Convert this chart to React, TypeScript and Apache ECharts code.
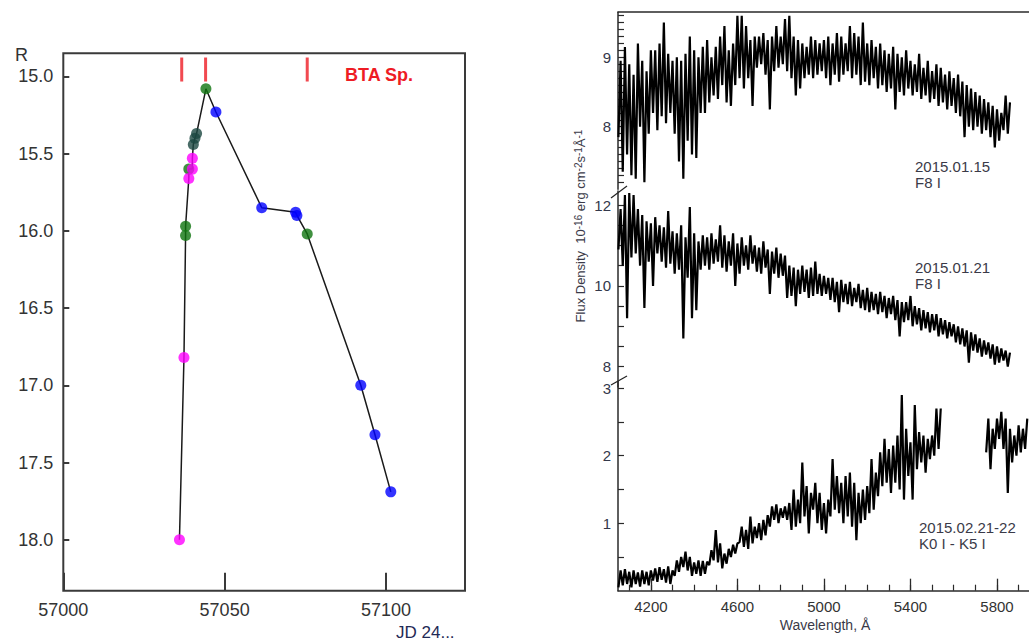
import React, { useEffect, useRef } from "react";
import * as echarts from "echarts";

// ---------- Light curve (left panel) ----------
const LC_JD = [57036.0, 57037.4, 57037.9, 57037.9, 57038.9, 57038.9, 57040.0, 57040.0, 57040.3, 57040.8, 57041.3, 57044.2, 57047.3, 57061.5, 57072.0, 57072.4, 57075.6, 57092.2, 57096.6, 57101.5];
const LC_R = [18.0, 16.82, 16.03, 15.97, 15.66, 15.6, 15.6, 15.53, 15.44, 15.4, 15.37, 15.08, 15.23, 15.85, 15.88, 15.9, 16.02, 17.0, 17.32, 17.69];
const LC_GROUP = ["m", "m", "g", "g", "m", "g", "m", "m", "t", "t", "t", "g", "b", "b", "b", "b", "g", "b", "b", "b"];
const GROUP_ORDER = ["g", "t", "b", "m"];
const GROUP_COLORS: Record<string, string> = { m: "#ff00ff", g: "#0f740f", t: "#1b4741", b: "#0000ff" };
const SPEC_JD = [57036.7, 57044.1, 57075.6];
const SPEC_MARK_R = 14.955;
const JD_TICKS = [57000, 57050, 57100];
const R_TICKS = [15, 15.5, 16, 16.5, 17, 17.5, 18];

// ---------- Spectra (right panels) ----------
const WL_STEP = 20;
const S1_START = 4050;
const S1_LO = [7.85, 7.35, 7.6, 7.3, 7.25, 8.0, 7.2, 7.9, 8.2, 7.95, 8.15, 8.05, 8.2, 7.9, 7.5, 7.25, 7.8, 7.6, 7.55, 8.2, 8.2, 8.35, 8.45, 8.4, 8.6, 8.35, 8.3, 8.6, 8.7, 8.55, 8.7, 8.3, 8.85, 8.9, 8.75, 8.25, 8.8, 8.85, 8.9, 8.8, 8.7, 8.45, 8.55, 8.7, 8.75, 8.7, 8.75, 8.8,
  8.7, 8.6, 8.75, 8.65, 8.75, 8.8, 8.7, 8.75, 8.6, 8.65, 8.6, 8.7, 8.55, 8.6, 8.5, 8.55, 8.25, 8.5, 8.45, 8.55, 8.45, 8.5, 8.4, 8.45, 8.35, 8.4, 8.3, 8.35, 8.25, 8.3, 8.2, 8.15, 7.85, 8.0, 7.95, 8.0, 7.9, 7.95, 7.85, 7.7, 7.8, 7.95, 7.9];
const S1_HI = [8.95, 9.15, 8.9, 8.75, 9.2, 8.95, 8.8, 9.1, 9.1, 9.2, 9.5, 9.05, 8.95, 9.0, 8.95, 9.05, 9.3, 9.1, 9.0, 9.15, 9.25, 9.0, 9.15, 9.3, 9.45, 9.1, 9.2, 9.6, 9.6, 9.45, 9.25, 9.3, 9.3, 9.35, 9.25, 9.3, 9.45, 9.3, 9.55, 9.6, 9.3, 9.25, 9.2, 9.15, 9.3, 9.25, 9.2, 9.25,
  9.3, 9.2, 9.35, 9.3, 9.2, 9.45, 9.35, 9.3, 9.5, 9.2, 9.25, 9.15, 9.2, 9.1, 9.05, 9.15, 9.05, 9.0, 9.1, 8.95, 8.9, 9.05, 8.85, 8.95, 8.8, 8.9, 8.85, 8.75, 8.8, 8.7, 8.75, 8.65, 8.6, 8.55, 8.5, 8.45, 8.4, 8.35, 8.3, 8.25, 8.2, 8.45, 8.35];

const S2_START = 4050;
const S2_LO = [10.9, 10.5, 9.2, 10.7, 10.8, 10.5, 9.45, 10.6, 10.0, 10.8, 10.6, 10.45, 10.55, 10.3, 10.4, 8.7, 10.2, 9.2, 9.4, 10.4, 10.5, 10.4, 10.55, 10.6, 10.45, 10.35, 10.5, 10.0, 10.3, 10.5, 10.4, 10.55, 10.35, 10.3, 10.45, 9.8, 10.3, 10.2, 10.25, 9.7, 9.75, 9.5, 9.8, 9.85, 9.7, 9.75, 9.8, 9.75,
  9.8, 9.65, 9.6, 9.35, 9.6, 9.55, 9.5, 9.6, 9.45, 9.4, 9.35, 9.4, 9.3, 9.35, 9.2, 9.3, 9.15, 8.75, 9.1, 9.15, 9.0, 9.05, 8.9, 8.95, 8.85, 8.9, 8.75, 8.8, 8.7, 8.75, 8.6, 8.55, 8.5, 8.1, 8.4, 8.35, 8.25, 8.3, 8.2, 8.05, 8.1, 8.15, 8.0];
const S2_HI = [11.9, 12.25, 12.3, 12.25, 11.9, 11.75, 11.6, 11.55, 11.7, 11.5, 11.45, 11.85, 11.35, 11.3, 11.5, 11.2, 11.95, 11.3, 11.1, 11.25, 11.2, 11.3, 11.15, 11.5, 11.25, 11.1, 11.3, 11.05, 11.2, 11.0, 11.25, 11.0, 10.95, 11.1, 10.9, 10.85, 10.95, 10.8, 10.75, 10.5, 10.45, 10.4, 10.5, 10.4, 10.45, 10.6, 10.3, 10.25,
  10.2, 10.2, 10.1, 10.15, 10.05, 10.1, 9.95, 10.05, 9.9, 9.95, 9.85, 9.8, 9.85, 9.75, 9.7, 9.75, 9.65, 9.6, 9.6, 9.75, 9.5, 9.45, 9.4, 9.35, 9.3, 9.3, 9.2, 9.15, 9.1, 9.05, 9.0, 8.95, 8.9, 8.85, 8.8, 8.7, 8.65, 8.6, 8.55, 8.5, 8.45, 8.4, 8.35];

const S3A_START = 4050;
const S3A_LO = [0.05, 0.08, 0.1, 0.05, 0.1, 0.06, 0.1, 0.08, 0.15, 0.13, 0.16, 0.12, 0.1, 0.22, 0.28, 0.35, 0.3, 0.22, 0.25, 0.22, 0.25, 0.38, 0.45, 0.42, 0.33, 0.4, 0.5, 0.55, 0.72, 0.65, 0.62, 0.7, 0.78, 0.75, 0.82, 0.95, 1.05, 1.0, 1.08, 1.05, 0.9, 0.95, 1.0, 1.1, 0.85, 1.2, 1.0, 0.9,
  0.85, 1.1, 1.2, 1.15, 1.0, 1.1, 0.95, 0.75, 1.0, 1.05, 1.15, 1.2, 1.4, 1.55, 1.6, 1.45, 1.6, 1.5, 1.35, 1.7, 1.35, 1.8, 1.9, 1.75, 1.95, 2.0, 2.1];
const S3A_HI = [0.3, 0.32, 0.28, 0.3, 0.27, 0.3, 0.28, 0.3, 0.33, 0.35, 0.32, 0.36, 0.3, 0.45, 0.5, 0.58, 0.5, 0.42, 0.45, 0.44, 0.43, 0.6, 0.9, 0.7, 0.55, 0.62, 0.68, 0.7, 0.95, 0.9, 1.1, 0.95, 1.0, 1.05, 1.12, 1.25, 1.28, 1.22, 1.25, 1.3, 1.5, 1.35, 1.9, 1.55, 1.45, 1.6, 1.45, 1.3,
  1.35, 1.95, 1.7, 1.6, 1.7, 1.75, 1.6, 1.45, 1.5, 1.55, 1.95, 1.75, 2.05, 2.25, 2.1, 2.15, 2.3, 2.9, 2.4, 2.2, 2.75, 2.35, 2.3, 2.25, 2.3, 2.7, 2.7];
const S3B_START = 5750;
const S3B_LO = [2.05, 1.8, 2.1, 2.25, 2.1, 1.45, 1.9, 2.0, 2.05, 2.1];
const S3B_HI = [2.55, 2.4, 2.55, 2.65, 2.55, 2.4, 2.3, 2.45, 2.4, 2.55];

const WL_MIN = 4048;
const WL_MAX = 5948;
const WL_MAJOR = [4200, 4600, 5000, 5400, 5800];
const WL_MINOR = [4100, 4200, 4300, 4400, 4500, 4600, 4700, 4800, 4900, 5000, 5100, 5200, 5300, 5400, 5500, 5600, 5700, 5800, 5900];
const P1_TICKS = [7.2, 7.3, 7.4, 7.5, 7.6, 7.7, 7.8, 7.9, 8.0, 8.1, 8.2, 8.3, 8.4, 8.5, 8.6, 8.7, 8.8, 8.9, 9.0, 9.1, 9.2, 9.3, 9.4, 9.5, 9.6];
const P1_LABELS = [8, 9];
const P2_TICKS = [8, 8.5, 9, 9.5, 10, 10.5, 11, 11.5, 12];
const P2_LABELS = [8, 10, 12];
const P3_TICKS = [0.5, 1, 1.5, 2, 2.5, 3];
const P3_LABELS = [1, 2, 3];

const FONT = "'Liberation Sans', Arial, Helvetica, sans-serif";

function zigzag(start: number, lo: number[], hi: number[]) {
  const pts: number[][] = [];
  for (let i = 0; i < lo.length; i++) {
    pts.push([start + WL_STEP * i, lo[i]]);
    pts.push([start + WL_STEP * i + WL_STEP / 2, hi[i]]);
  }
  return pts;
}

export default function App() {
  const ref = useRef<HTMLDivElement>(null);
  useEffect(() => {
    if (!ref.current) return;
    const chart = echarts.init(ref.current, null, { renderer: "svg" });
    const axisColor = "#2a2a2a";
    const lblColor = "#333";

    const specAxisY = (grid: number, min: number, max: number, ticks: number[], labels: number[]) => ({
      gridIndex: grid,
      type: "value",
      min,
      max,
      axisLine: { show: true, onZero: false, lineStyle: { color: axisColor, width: 1.5 } },
      axisTick: { show: true, inside: true, length: 6, customValues: ticks, lineStyle: { color: axisColor, width: 1.2 } },
      axisLabel: { show: true, customValues: labels, fontSize: 15, color: "#33384a", fontFamily: FONT, margin: 7, formatter: (v: number) => String(v) },
      splitLine: { show: false },
    });

    const specSeries = (x: number, y: number, data: number[][]) => ({
      type: "line",
      xAxisIndex: x,
      yAxisIndex: y,
      data,
      showSymbol: false,
      symbol: "none",
      lineStyle: { color: "#000", width: 2.2, join: "bevel" },
      silent: true,
      z: 2,
    });

    const lcData = LC_JD.map((x, i) => [x, LC_R[i]]);
    const scatterSeries = GROUP_ORDER.map((g) => ({
      type: "scatter",
      xAxisIndex: 0,
      yAxisIndex: 0,
      symbol: "circle",
      symbolSize: 11,
      itemStyle: { color: GROUP_COLORS[g] },
      data: LC_JD.map((x, i) => (LC_GROUP[i] === g ? [x, LC_R[i]] : null)).filter((d) => d !== null),
      z: 4,
      silent: true,
    }));

    chart.setOption({
      animation: false,
      backgroundColor: "#fff",
      grid: [
        { left: 63.3, top: 53.3, width: 401.7, height: 537.4, show: true, borderColor: "#3a3a3a", borderWidth: 2, backgroundColor: "transparent" },
        { left: 618, top: 12.2, right: 0, height: 177 },
        { left: 618, top: 190.9, right: 0, height: 196 },
        { left: 618, top: 381.5, right: 0, height: 209.2 },
      ],
      xAxis: [
        {
          gridIndex: 0, type: "value", min: 57000, max: 57124.5,
          axisLine: { show: false, onZero: false },
          axisTick: { show: true, inside: true, length: 18, customValues: JD_TICKS, lineStyle: { color: "#3a3a3a", width: 2 } },
          axisLabel: { show: true, customValues: JD_TICKS, fontSize: 18, color: lblColor, fontFamily: FONT, margin: 10, formatter: (v: number) => String(v) },
          splitLine: { show: false },
        },
        {
          gridIndex: 1, type: "value", position: "top", min: WL_MIN, max: WL_MAX,
          axisLine: { show: true, onZero: false, lineStyle: { color: axisColor, width: 1.5 } },
          axisTick: { show: false }, axisLabel: { show: false }, splitLine: { show: false },
        },
        { gridIndex: 2, type: "value", min: WL_MIN, max: WL_MAX, show: false },
        {
          gridIndex: 3, type: "value", position: "bottom", min: WL_MIN, max: WL_MAX,
          axisLine: { show: true, onZero: false, lineStyle: { color: axisColor, width: 1.5 } },
          axisTick: { show: true, inside: true, length: 12, customValues: WL_MAJOR, lineStyle: { color: axisColor, width: 1.3 } },
          axisLabel: { show: true, customValues: WL_MAJOR, fontSize: 15, color: lblColor, fontFamily: FONT, margin: 8, formatter: (v: number) => String(v) },
          splitLine: { show: false },
        },
        {
          gridIndex: 3, type: "value", position: "bottom", min: WL_MIN, max: WL_MAX,
          axisLine: { show: false, onZero: false },
          axisTick: { show: true, inside: true, length: 6, customValues: WL_MINOR, lineStyle: { color: axisColor, width: 1.2 } },
          axisLabel: { show: false }, splitLine: { show: false },
        },
      ],
      yAxis: [
        {
          gridIndex: 0, type: "value", inverse: true, min: 14.85, max: 18.33,
          axisLine: { show: false, onZero: false },
          axisTick: { show: true, inside: true, length: 6, customValues: R_TICKS, lineStyle: { color: "#3a3a3a", width: 2 } },
          axisLabel: { show: true, customValues: R_TICKS, fontSize: 18, color: lblColor, fontFamily: FONT, margin: 10, formatter: (v: number) => v.toFixed(1) },
          splitLine: { show: false },
        },
        specAxisY(1, 7.1, 9.65, P1_TICKS, P1_LABELS),
        specAxisY(2, 7.5, 12.35, P2_TICKS, P2_LABELS),
        specAxisY(3, 0, 3.1, P3_TICKS, P3_LABELS),
      ],
      series: [
        {
          type: "line", xAxisIndex: 0, yAxisIndex: 0, data: lcData, showSymbol: false, symbol: "none",
          lineStyle: { color: "#1a1a1a", width: 1.5 }, z: 3, silent: true,
        },
        ...scatterSeries,
        {
          type: "scatter", xAxisIndex: 0, yAxisIndex: 0, symbol: "rect", symbolSize: [3, 24],
          itemStyle: { color: "#ee1c24" }, data: SPEC_JD.map((x) => [x, SPEC_MARK_R]), z: 4, silent: true,
        },
        specSeries(1, 1, zigzag(S1_START, S1_LO, S1_HI)),
        specSeries(2, 2, zigzag(S2_START, S2_LO, S2_HI)),
        specSeries(3, 3, zigzag(S3A_START, S3A_LO, S3A_HI)),
        specSeries(3, 3, zigzag(S3B_START, S3B_LO, S3B_HI)),
      ],
      graphic: [
        { type: "text", x: 15, y: 46, style: { text: "R", fontSize: 18, fill: lblColor, fontFamily: FONT } },
        { type: "text", x: 396, y: 624, style: { text: "JD 24...", fontSize: 17, fill: "#1f2a55", fontFamily: FONT } },
        { type: "text", x: 345, y: 75, style: { text: "BTA Sp.", fontSize: 18, fontWeight: "bold", fill: "#ee1c24", fontFamily: FONT, verticalAlign: "middle" } },
        {
          type: "text", x: 580, y: 226, rotation: Math.PI / 2,
          style: {
            text: "Flux Density  10{s|-16} erg cm{s|-2}s{s|-1}Å{s|-1}",
            fontSize: 13, fill: "#3a3a48", fontFamily: FONT, align: "center", verticalAlign: "middle",
            rich: { s: { fontSize: 10, verticalAlign: "top", fill: "#3a3a48", fontFamily: FONT } },
          },
        },
        { type: "text", x: 915, y: 158, style: { text: "2015.01.15\nF8 I", fontSize: 15, lineHeight: 16, fill: "#3a3a48", fontFamily: FONT } },
        { type: "text", x: 915, y: 259, style: { text: "2015.01.21\nF8 I", fontSize: 15, lineHeight: 16, fill: "#3a3a48", fontFamily: FONT } },
        { type: "text", x: 919, y: 519, style: { text: "2015.02.21-22\nK0 I - K5 I", fontSize: 15, lineHeight: 16, fill: "#3a3a48", fontFamily: FONT } },
        { type: "text", x: 825, y: 625, style: { text: "Wavelength, Å", fontSize: 14, fill: "#3a3a48", fontFamily: FONT, align: "center", verticalAlign: "middle" } },
        { type: "line", shape: { x1: 611, y1: 198, x2: 627, y2: 186 }, style: { stroke: "#222", lineWidth: 1.2 } },
        { type: "line", shape: { x1: 611, y1: 385, x2: 627, y2: 376 }, style: { stroke: "#222", lineWidth: 1.2 } },
      ],
    });
    return () => chart.dispose();
  }, []);

  return <div ref={ref} style={{ position: "absolute", left: 0, top: 0, width: 1029, height: 643, background: "#fff" }} />;
}
